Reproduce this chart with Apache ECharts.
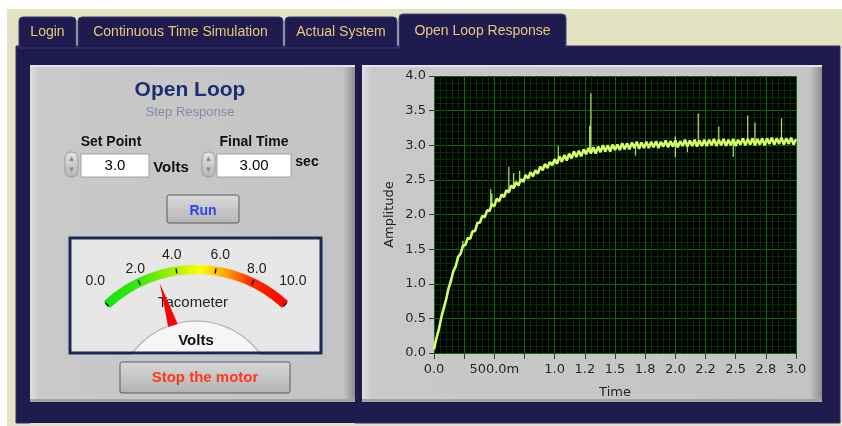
<!DOCTYPE html>
<html>
<head>
<meta charset="utf-8">
<title>Open Loop Response</title>
<script src="https://cdn.jsdelivr.net/npm/echarts@6/dist/echarts.min.js"></script>
<style>
  html, body { margin: 0; padding: 0; background: #ffffff; }
  #main { width: 842px; height: 426px; }
</style>
</head>
<body>
<div id="main"></div>
<script>
// recorded step response, one sample every 0.02 s from 0.0 to 3.0 s
var sampleStep = 0.02;
var amplitude = [
  0.05, 0.21, 0.34, 0.51, 0.64, 0.77, 0.93, 1.04, 1.18, 1.25,
  1.39, 1.43, 1.55, 1.56, 1.66, 1.65, 1.76, 1.76, 1.88, 1.88,
  1.98, 1.96, 2.06, 2.05, 2.15, 2.12, 2.23, 2.19, 2.29, 2.25,
  2.35, 2.32, 2.42, 2.38, 2.47, 2.42, 2.51, 2.47, 2.57, 2.52,
  2.61, 2.55, 2.64, 2.59, 2.69, 2.64, 2.73, 2.67, 2.76, 2.71,
  2.80, 2.73, 2.84, 2.76, 2.86, 2.78, 2.88, 2.81, 2.91, 2.83,
  2.92, 2.84, 2.94, 2.87, 2.96, 2.88, 2.97, 2.88, 2.98, 2.90,
  3.00, 2.91, 3.00, 2.91, 3.01, 2.93, 3.01, 2.93, 3.03, 2.94,
  3.03, 2.94, 3.04, 2.96, 3.05, 2.95, 3.04, 2.96, 3.05, 2.96,
  3.05, 2.97, 3.06, 2.96, 3.05, 2.98, 3.07, 2.97, 3.06, 2.98,
  3.07, 2.97, 3.06, 2.99, 3.08, 2.98, 3.07, 2.99, 3.08, 2.98,
  3.07, 2.99, 3.08, 2.99, 3.08, 3.00, 3.09, 2.99, 3.08, 3.00,
  3.09, 2.99, 3.08, 3.00, 3.09, 2.99, 3.08, 3.01, 3.10, 3.00,
  3.09, 3.01, 3.10, 3.00, 3.09, 3.01, 3.10, 3.00, 3.10, 3.02,
  3.11, 3.01, 3.10, 3.02, 3.11, 3.01, 3.10, 3.02, 3.11, 3.01,
  3.09
];

// noise spikes: when, level they leave the trace at, level they reach
var spikeTimes = [0.24, 0.47, 0.48, 0.62, 0.66, 0.71, 1.03, 1.29, 1.30, 1.67, 2.00, 2.00, 2.10, 2.19, 2.36, 2.48, 2.60, 2.66, 2.88];
var spikeFrom  = [1.52, 2.10, 2.12, 2.35, 2.41, 2.47, 2.78, 2.92, 2.92, 3.00, 3.02, 3.02, 3.03, 3.03, 3.04, 3.04, 3.05, 3.05, 3.06];
var spikeTo    = [1.62, 2.37, 2.30, 2.69, 2.60, 2.63, 2.99, 3.28, 3.75, 2.85, 3.13, 2.83, 2.90, 3.46, 3.27, 2.83, 3.43, 3.33, 3.39];

// time axis ticks and the labels LabVIEW prints for them
var timeTicks  = [0, 0.25, 0.5, 0.75, 1, 1.25, 1.5, 1.75, 2, 2.25, 2.5, 2.75, 3];
var timeLabels = ['0.0', '', '500.0m', '', '1.0', '1.2', '1.5', '1.8', '2.0', '2.2', '2.5', '2.8', '3.0'];

// front panel controls
var setPoint = 3.0;
var finalTime = 3.00;
var tachoVolts = 3.0;

var navy = '#1f1b4f';
var beige = '#e3e2c3';

var trace = amplitude.map(function (v, i) { return [i * sampleStep, v]; });
var spikes = [];
spikeTimes.forEach(function (t, i) {
  spikes.push([t, spikeFrom[i]], [t, spikeTo[i]], [t, '-']);
});

function box(x, y, w, h, fill, z, extra) {
  var el = { type: 'rect', silent: true, z: z, shape: { x: x, y: y, width: w, height: h }, style: { fill: fill } };
  if (extra) {
    if (extra.r) el.shape.r = extra.r;
    if (extra.stroke) { el.style.stroke = extra.stroke; el.style.lineWidth = extra.lw || 1; }
  }
  return el;
}
function txt(x, y, s, font, color, z) {
  return { type: 'text', silent: true, z: z, x: x, y: y,
    style: { text: s, font: font, fill: color, align: 'center', verticalAlign: 'middle', textAlign: 'center', textVerticalAlign: 'middle' } };
}
function hgrad(stops) {
  return { type: 'linear', x: 0, y: 0, x2: 1, y2: 0, colorStops: stops.map(function (s) { return { offset: s[0], color: s[1] }; }) };
}
function vgrad(a, b) {
  return { type: 'linear', x: 0, y: 0, x2: 0, y2: 1, colorStops: [{ offset: 0, color: a }, { offset: 1, color: b }] };
}

var panelFill = function (w) {
  var e = 10 / w;
  return hgrad([[0, '#dedede'], [e, '#c9c9c9'], [1 - e * 1.2, '#c4c4c4'], [1, '#8e8e8e']]);
};

var tabFont = '14px "Liberation Sans", Arial, sans-serif';
var gold = '#e8c97c';
var uiFont = '"Liberation Sans", Arial, sans-serif';

var graphics = [
  box(0, 0, 842, 426, beige, -6),
  box(0, 0, 842, 9, '#ffffff', -6),
  box(0, 0, 7, 426, '#ffffff', -6),
  // tab control
  box(16, 46, 824, 377, navy, -6, { stroke: '#35316b', lw: 1 }),
  box(19, 17, 57, 31, navy, -6, { r: [4, 4, 0, 0], stroke: '#3d3a74', lw: 1 }),
  box(78, 17, 205, 31, navy, -6, { r: [4, 4, 0, 0], stroke: '#3d3a74', lw: 1 }),
  box(285, 17, 112, 31, navy, -6, { r: [4, 4, 0, 0], stroke: '#3d3a74', lw: 1 }),
  box(399, 14, 167, 34, navy, -6, { r: [4, 4, 0, 0], stroke: '#46437e', lw: 1 }),
  box(400, 44, 165, 6, navy, -6),
  txt(47.5, 32, 'Login', tabFont, gold, -6),
  txt(180.5, 32, 'Continuous Time Simulation', tabFont, gold, -6),
  txt(341, 32, 'Actual System', tabFont, gold, -6),
  txt(482.5, 31, 'Open Loop Response', tabFont, gold, -6),
  // panels
  box(30, 65, 325, 337, panelFill(325), -6),
  box(30, 65, 325, 2, '#e4e4e4', -6),
  box(30, 399, 325, 3, '#a4a4a4', -6),
  box(362, 65, 460, 337, panelFill(460), -6),
  box(362, 65, 460, 2, '#e4e4e4', -6),
  box(362, 399, 460, 3, '#a4a4a4', -6),
  // titles and numeric controls
  txt(190, 90, 'Open Loop', 'bold 21px ' + uiFont, '#1b2f72', -6),
  txt(190, 112, 'Step Response', '13px ' + uiFont, '#7d8ea3', -6),
  txt(111, 142, 'Set Point', 'bold 14px ' + uiFont, '#111111', -6),
  txt(254, 142, 'Final Time', 'bold 14px ' + uiFont, '#111111', -6),
  box(65, 152, 13, 25, vgrad('#e4e4e4', '#b4b4b4'), -6, { r: 6, stroke: '#9a9a9a', lw: 1 }),
  box(202, 152, 13, 25, vgrad('#e4e4e4', '#b4b4b4'), -6, { r: 6, stroke: '#9a9a9a', lw: 1 }),
  txt(71.5, 159, '\u25B4', '9px "DejaVu Sans", sans-serif', '#8a8a8a', -6),
  txt(71.5, 170, '\u25BE', '9px "DejaVu Sans", sans-serif', '#8a8a8a', -6),
  txt(208.5, 159, '\u25B4', '9px "DejaVu Sans", sans-serif', '#8a8a8a', -6),
  txt(208.5, 170, '\u25BE', '9px "DejaVu Sans", sans-serif', '#8a8a8a', -6),
  box(81, 154, 68, 23, '#ffffff', -6, { stroke: '#a0a0a0', lw: 1 }),
  box(217, 154, 74, 23, '#ffffff', -6, { stroke: '#a0a0a0', lw: 1 }),
  txt(115, 166, setPoint.toFixed(1), '15px ' + uiFont, '#000000', -6),
  txt(254, 166, finalTime.toFixed(2), '15px ' + uiFont, '#000000', -6),
  txt(171, 168, 'Volts', 'bold 15px ' + uiFont, '#111111', -6),
  txt(307, 162, 'sec', 'bold 14px ' + uiFont, '#111111', -6),
  box(167, 195, 72, 28, vgrad('#dadada', '#b6b6b6'), -6, { r: 2, stroke: '#5a5a5a', lw: 1 }),
  txt(203, 211, 'Run', 'bold 14px ' + uiFont, '#2a46f2', -6),
  // meter face, dome and everything that hides the dome's lower part
  box(70, 238, 251, 115, '#e7e7e7', -6),
  { type: 'circle', silent: true, z: -5, shape: { cx: 196, cy: 400, r: 79 }, style: { fill: '#f6f6f6', stroke: '#bdbdbd', lineWidth: 1.5 } },
  box(30, 355, 325, 44, panelFill(325), -4),
  box(30, 399, 325, 3, '#a4a4a4', -4),
  box(30, 402, 325, 21, navy, -4),
  box(30, 423, 325, 3, beige, -4),
  box(70, 238, 251, 115, 'none', -3, { stroke: '#1c2857', lw: 3 }),
  box(120, 362, 170, 31, vgrad('#d8d8d8', '#b2b2b2'), -3, { r: 2, stroke: '#5a5a5a', lw: 1 }),
  txt(205, 378, 'Stop the motor', 'bold 15px ' + uiFont, '#ff3a1c', -3)
];

var chart = echarts.init(document.getElementById('main'));

var tickFont = '"DejaVu Sans", sans-serif';
var majorGrid = '#0a6e0a';
var minorGrid = '#033203';

chart.setOption({
  animation: false,
  graphic: { elements: graphics },
  grid: {
    left: 434, top: 76, width: 362, height: 277,
    show: true, backgroundColor: '#000000', borderWidth: 0
  },
  xAxis: {
    type: 'value', min: 0, max: 3, interval: 0.25,
    name: 'Time', nameLocation: 'middle', nameGap: 33,
    nameTextStyle: { color: '#222222', fontSize: 13, fontFamily: tickFont },
    axisLine: { show: false },
    axisTick: { show: true, length: 6, lineStyle: { color: '#3a3a3a' } },
    axisLabel: {
      margin: 10, color: '#262626', fontSize: 13, fontFamily: tickFont,
      showMinLabel: true, showMaxLabel: true,
      formatter: function (v) {
        var k = timeTicks.indexOf(Math.round(v * 100) / 100);
        return k < 0 ? '' : timeLabels[k];
      }
    },
    splitLine: { show: true, lineStyle: { color: majorGrid, width: 1 } },
    minorTick: { show: false, splitNumber: 5 },
    minorSplitLine: { show: true, lineStyle: { color: minorGrid, width: 1 } }
  },
  yAxis: {
    type: 'value', min: 0, max: 4, interval: 0.5,
    name: 'Amplitude', nameLocation: 'middle', nameGap: 38,
    nameTextStyle: { color: '#222222', fontSize: 13, fontFamily: tickFont },
    axisLine: { show: false },
    axisTick: { show: true, length: 5, lineStyle: { color: '#3a3a3a' } },
    axisLabel: {
      margin: 8, color: '#262626', fontSize: 13, fontFamily: tickFont,
      formatter: function (v) { return v.toFixed(1); }
    },
    splitLine: { show: true, lineStyle: { color: majorGrid, width: 1 } },
    minorTick: { show: false, splitNumber: 5 },
    minorSplitLine: { show: true, lineStyle: { color: minorGrid, width: 1 } }
  },
  series: [
    {
      name: 'Amplitude', type: 'line', data: trace,
      showSymbol: false, symbol: 'none', silent: true,
      lineStyle: { color: '#d4ff66', width: 2.6 }
    },
    {
      name: 'spikes', type: 'line', data: spikes,
      showSymbol: false, symbol: 'none', silent: true, connectNulls: false,
      lineStyle: { color: '#d0f868', width: 1.3, opacity: 0.85 }
    },
    {
      name: 'Tacometer', type: 'gauge', silent: true,
      center: [196, 400], radius: 135,
      startAngle: 133, endAngle: 47,
      min: 0, max: 10, splitNumber: 5,
      axisLine: {
        lineStyle: {
          width: 9,
          color: [[1, hgrad([[0, '#10e010'], [0.2, '#3ee80a'], [0.4, '#b4f200'], [0.52, '#ffff00'], [0.66, '#ffa400'], [0.8, '#ff2a00'], [1, '#ff0000']])]]
        }
      },
      splitLine: { length: 5, distance: -7, lineStyle: { color: '#111111', width: 1.5 } },
      axisTick: { show: false },
      axisLabel: {
        distance: -25, padding: [8, 0, 0, 0], color: '#222222', fontSize: 14, fontFamily: uiFont,
        formatter: function (v) { return v.toFixed(1); }
      },
      pointer: {
        icon: 'path://M5,0 L10,40 L0,40 Z',
        width: 10, length: 44, offsetCenter: [0, -78],
        itemStyle: { color: '#ff0000' }
      },
      anchor: { show: false },
      progress: { show: false },
      title: { offsetCenter: [-3, -97], fontSize: 15, color: '#222222', fontFamily: uiFont },
      detail: {
        offsetCenter: [0, -59], formatter: 'Volts', fontSize: 15, fontWeight: 'bold',
        color: '#111111', fontFamily: uiFont
      },
      data: [{ value: tachoVolts, name: 'Tacometer' }]
    }
  ]
});
</script>
</body>
</html>
